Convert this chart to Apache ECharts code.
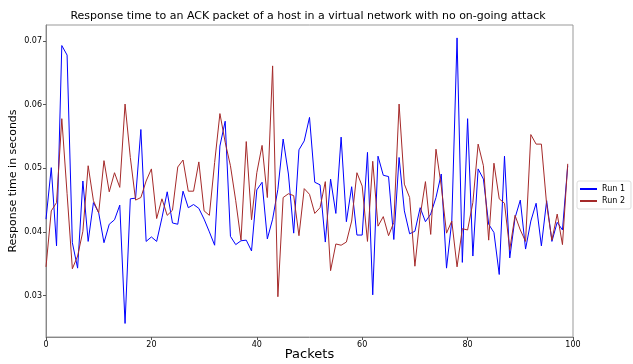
<!DOCTYPE html>
<html>
<head>
<meta charset="utf-8">
<script src="https://cdn.jsdelivr.net/npm/echarts@6/dist/echarts.min.js"></script>
<style>
html,body{margin:0;padding:0;background:#fff;}
#chart{width:633px;height:364px;}
</style>
</head>
<body>
<div id="chart"></div>
<script>
// Response time (seconds) per packet index, two runs
const packets = Array.from({length: 100}, (_, i) => i);
const run1 = [
  0.0420, 0.0501, 0.0378, 0.0693, 0.0678, 0.0383, 0.0343, 0.0480, 0.0385, 0.0446,
  0.0430, 0.0383, 0.0412, 0.0419, 0.0442, 0.0256, 0.0452, 0.0453, 0.0561, 0.0385,
  0.0392, 0.0385, 0.0422, 0.0463, 0.0414, 0.0412, 0.0464, 0.0438, 0.0443, 0.0437,
  0.0420, 0.0400, 0.0379, 0.0535, 0.0574, 0.0393, 0.0380, 0.0386, 0.0387, 0.0370,
  0.0466, 0.0478, 0.0389, 0.0420, 0.0467, 0.0546, 0.0491, 0.0398, 0.0529, 0.0543,
  0.0580, 0.0478, 0.0474, 0.0384, 0.0483, 0.0429, 0.0549, 0.0416, 0.0471, 0.0395,
  0.0395, 0.0525, 0.0301, 0.0519, 0.0489, 0.0487, 0.0388, 0.0517, 0.0433, 0.0397,
  0.0401, 0.0438, 0.0416, 0.0428, 0.0454, 0.0491, 0.0343, 0.0417, 0.0705, 0.0352,
  0.0578, 0.0362, 0.0499, 0.0483, 0.0412, 0.0399, 0.0333, 0.0519, 0.0359, 0.0422,
  0.0450, 0.0373, 0.0417, 0.0445, 0.0378, 0.0449, 0.0385, 0.0415, 0.0403, 0.0504
];
const run2 = [
  0.0345, 0.0433, 0.0446, 0.0578, 0.0460, 0.0342, 0.0362, 0.0401, 0.0504, 0.0449,
  0.0430, 0.0512, 0.0463, 0.0493, 0.0470, 0.0601, 0.0517, 0.0450, 0.0454, 0.0480,
  0.0499, 0.0421, 0.0452, 0.0426, 0.0434, 0.0502, 0.0513, 0.0464, 0.0464, 0.0510,
  0.0433, 0.0426, 0.0509, 0.0586, 0.0541, 0.0504, 0.0449, 0.0387, 0.0542, 0.0419,
  0.0493, 0.0536, 0.0454, 0.0661, 0.0298, 0.0454, 0.0460, 0.0457, 0.0394, 0.0468,
  0.0459, 0.0429, 0.0438, 0.0479, 0.0339, 0.0381, 0.0379, 0.0384, 0.0417, 0.0493,
  0.0472, 0.0385, 0.0511, 0.0409, 0.0424, 0.0394, 0.0415, 0.0601, 0.0475, 0.0454,
  0.0346, 0.0425, 0.0479, 0.0396, 0.0530, 0.0472, 0.0398, 0.0417, 0.0345, 0.0405,
  0.0403, 0.0446, 0.0538, 0.0504, 0.0387, 0.0508, 0.0452, 0.0445, 0.0372, 0.0426,
  0.0403, 0.0385, 0.0553, 0.0538, 0.0538, 0.0443, 0.0387, 0.0428, 0.0380, 0.0507
];
const yTicks = [0.03, 0.04, 0.05, 0.06, 0.07];
const xTicks = [0, 20, 40, 60, 80, 100];

const font = 'DejaVu Sans';
const chart = echarts.init(document.getElementById('chart'), null, {renderer: 'canvas'});
chart.setOption({
  animation: false,
  backgroundColor: '#fff',
  title: {
    text: 'Response time to an ACK packet of a host in a virtual network with no on-going attack',
    left: 303, top: 6, textAlign: 'center',
    textStyle: {fontFamily: font, fontSize: 11, fontWeight: 'normal', color: '#000'}
  },
  legend: {
    orient: 'vertical', left: 577, top: 181,
    itemWidth: 17, itemHeight: 2, itemGap: 4,
    padding: [4, 6, 4, 3],
    borderColor: '#ddd', borderWidth: 1, borderRadius: 2,
    icon: 'rect',
    textStyle: {fontFamily: font, fontSize: 8, color: '#000'},
    data: ['Run 1', 'Run 2']
  },
  grid: {
    left: 46, right: 60, top: 25, bottom: 27,
    outerBoundsMode: 'none',
    show: true, borderColor: '#999', borderWidth: 1
  },
  xAxis: {
    type: 'value', min: 0, max: 100, interval: 20,
    name: 'Packets', nameLocation: 'middle', nameGap: 11, nameMoveOverlap: false,
    nameTextStyle: {fontFamily: font, fontSize: 13, color: '#000'},
    axisLine: {show: true, lineStyle: {color: '#888'}},
    axisTick: {show: true, length: 3, lineStyle: {color: '#555'}},
    axisLabel: {fontFamily: font, fontSize: 8, color: '#000', margin: 4,
      customValues: xTicks},
    splitLine: {show: false}
  },
  yAxis: {
    type: 'value', min: 0.02347, max: 0.07253,
    name: 'Response time in seconds', nameLocation: 'middle', nameGap: 27, nameMoveOverlap: false,
    nameTextStyle: {fontFamily: font, fontSize: 11, color: '#000'},
    axisLine: {show: true, lineStyle: {color: '#888'}},
    axisTick: {show: true, length: 3, lineStyle: {color: '#555'}, customValues: yTicks},
    axisLabel: {fontFamily: font, fontSize: 8, color: '#000', margin: 4,
      customValues: yTicks, formatter: v => v.toFixed(2)},
    splitLine: {show: false}
  },
  series: [
    {
      name: 'Run 1', type: 'line', showSymbol: false, symbol: 'none',
      data: packets.map((p, i) => [p, run1[i]]),
      lineStyle: {color: '#0000ff', width: 1}, itemStyle: {color: '#0000ff'}
    },
    {
      name: 'Run 2', type: 'line', showSymbol: false, symbol: 'none',
      data: packets.map((p, i) => [p, run2[i]]),
      lineStyle: {color: '#a52a2a', width: 1}, itemStyle: {color: '#a52a2a'}
    }
  ]
});
</script>
</body>
</html>
